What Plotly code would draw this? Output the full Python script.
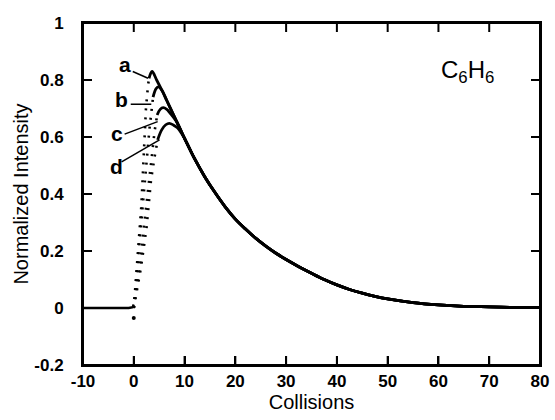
import plotly.graph_objects as go

# ---- data ----
base_x = [-10, -5, -1, -0.2, 0]
base_y = [0, 0, 0, 0.003, 0.012]

stray_x = [0]
stray_y = [-0.035]

# dotted rising parts
rise_a_x = [0, 0.8, 1.5, 2.0, 2.4, 2.8, 3.0]
rise_a_y = [0, 0.19, 0.36, 0.55, 0.70, 0.78, 0.806]
rise_b_x = [0, 1.0, 1.8, 2.5, 3.1, 3.8]
rise_b_y = [0, 0.20, 0.36, 0.50, 0.63, 0.74]
rise_c_x = [0, 1.2, 2.1, 2.8, 3.5, 4.1, 4.6]
rise_c_y = [0, 0.15, 0.30, 0.42, 0.53, 0.62, 0.677]
rise_d_x = [0, 1.4, 2.5, 3.4, 4.1, 4.7]
rise_d_y = [0, 0.14, 0.28, 0.45, 0.53, 0.59]

# solid peak parts (before joining the common decay)
peak_a_x = [3.0, 3.6]
peak_a_y = [0.806, 0.83]
peak_b_x = [3.8, 4.4, 4.9, 5.6]
peak_b_y = [0.74, 0.77, 0.776, 0.762]
peak_c_x = [4.6, 5.2, 5.8, 6.5, 7.1]
peak_c_y = [0.677, 0.697, 0.703, 0.697, 0.685]
peak_d_x = [4.7, 5.5, 6.3, 7.0, 7.8, 8.6]
peak_d_y = [0.59, 0.625, 0.643, 0.648, 0.642, 0.632]

# common decay
decay_x = [4.5, 5.5, 6.5, 7.5, 8.5, 10, 12, 14, 16, 18, 20, 22, 24, 26, 28, 30,
           32.5, 35, 37.5, 40, 42.5, 45, 47.5, 50, 55, 60, 65, 70, 75, 80]
decay_y = [0.80, 0.765, 0.728, 0.69, 0.652, 0.595, 0.523, 0.46, 0.405, 0.355,
           0.312, 0.277, 0.245, 0.217, 0.192, 0.17, 0.145, 0.122, 0.1, 0.081,
           0.065, 0.052, 0.041, 0.032, 0.019, 0.011, 0.006, 0.004, 0.002, 0.001]

labels = ["a", "b", "c", "d"]
label_x = [-1.8, -2.4, -3.4, -3.5]
label_y = [0.853, 0.73, 0.613, 0.498]
leader_x0 = [-0.2, -0.6, -1.8, -2.4]
leader_y0 = [0.83, 0.715, 0.61, 0.513]
leader_x1 = [2.8, 3.45, 4.7, 5.07]
leader_y1 = [0.806, 0.715, 0.654, 0.59]

x_range = [-10, 80]
y_range = [-0.2, 1]
x_ticks = [-10, 0, 10, 20, 30, 40, 50, 60, 70, 80]
y_ticks = [-0.2, 0, 0.2, 0.4, 0.6, 0.8, 1]
y_ticktext = ["-0.2", "0", "0.2", "0.4", "0.6", "0.8", "1"]
x_ticktext = [str(v) for v in x_ticks]

BLACK = "#000000"
FONT = "Liberation Sans"
W, H = 555, 420
M = dict(l=83, r=15, t=23, b=55)
TICK_PX = 9

fig = go.Figure()

fig.add_trace(go.Scatter(x=base_x, y=base_y, mode="lines",
                         line=dict(color=BLACK, width=2.5), showlegend=False))
fig.add_trace(go.Scatter(x=stray_x, y=stray_y, mode="markers",
                         marker=dict(color=BLACK, size=4), showlegend=False))

rises = [(rise_a_x, rise_a_y), (rise_b_x, rise_b_y), (rise_c_x, rise_c_y), (rise_d_x, rise_d_y)]
for rx, ry in rises:
    fig.add_trace(go.Scatter(x=rx, y=ry, mode="lines",
                             line=dict(color=BLACK, width=2.6, dash="2px,7px"),
                             showlegend=False))

peaks = [(peak_a_x, peak_a_y), (peak_b_x, peak_b_y), (peak_c_x, peak_c_y), (peak_d_x, peak_d_y)]
for px, py in peaks:
    last = px[-1]
    xs = list(px) + [x for x in decay_x if x > last + 0.5]
    ys = list(py) + [y for x, y in zip(decay_x, decay_y) if x > last + 0.5]
    fig.add_trace(go.Scatter(x=xs, y=ys, mode="lines", line_shape="spline",
                             line=dict(color=BLACK, width=2.8), showlegend=False))

for i, lab in enumerate(labels):
    fig.add_trace(go.Scatter(x=[leader_x0[i], leader_x1[i]], y=[leader_y0[i], leader_y1[i]],
                             mode="lines", line=dict(color=BLACK, width=1.5), showlegend=False))
    fig.add_annotation(x=label_x[i], y=label_y[i], text="<b>" + lab + "</b>", showarrow=False,
                       font=dict(family=FONT, size=21, color=BLACK),
                       xanchor="center", yanchor="middle")

fig.add_annotation(x=65.7, y=0.83, text="C<sub>6</sub>H<sub>6</sub>", showarrow=False,
                   font=dict(family=FONT, size=24, color=BLACK),
                   xanchor="center", yanchor="middle")

# frame around the plot area
fig.add_shape(type="rect", xref="paper", yref="paper", x0=0, y0=0, x1=1, y1=1,
              line=dict(color=BLACK, width=2), layer="above")

# inside ticks placed on the axes' scales, fixed pixel length
for v in x_ticks[1:-1]:
    fig.add_shape(type="line", xref="x", yref="paper", x0=v, x1=v,
                  ysizemode="pixel", yanchor=0, y0=0, y1=TICK_PX,
                  line=dict(color=BLACK, width=2))
    fig.add_shape(type="line", xref="x", yref="paper", x0=v, x1=v,
                  ysizemode="pixel", yanchor=1, y0=0, y1=-TICK_PX,
                  line=dict(color=BLACK, width=2))
for v in y_ticks[1:-1]:
    fig.add_shape(type="line", xref="paper", yref="y", y0=v, y1=v,
                  xsizemode="pixel", xanchor=0, x0=0, x1=TICK_PX,
                  line=dict(color=BLACK, width=2))
    fig.add_shape(type="line", xref="paper", yref="y", y0=v, y1=v,
                  xsizemode="pixel", xanchor=1, x0=0, x1=-TICK_PX,
                  line=dict(color=BLACK, width=2))

fig.update_xaxes(range=x_range, tickmode="array", tickvals=x_ticks,
                 ticktext=["<b>" + t + "</b>" for t in x_ticktext],
                 showline=True, linecolor=BLACK, linewidth=2, mirror=True,
                 ticks="inside", ticklen=TICK_PX, tickwidth=2, tickcolor=BLACK,
                 showgrid=False, zeroline=False,
                 tickfont=dict(family=FONT, size=17, color=BLACK),
                 title=dict(text="Collisions", standoff=2,
                            font=dict(family=FONT, size=20, color=BLACK)))
fig.update_yaxes(range=y_range, tickmode="array", tickvals=y_ticks,
                 ticktext=["<b>" + t + "</b>" for t in y_ticktext],
                 showline=True, linecolor=BLACK, linewidth=2, mirror=True,
                 ticks="inside", ticklen=TICK_PX, tickwidth=2, tickcolor=BLACK,
                 showgrid=False, zeroline=False,
                 ticklabelstandoff=14,
                 tickfont=dict(family=FONT, size=17, color=BLACK),
                 title=dict(text="Normalized Intensity", standoff=0,
                            font=dict(family=FONT, size=20, color=BLACK)))

fig.update_layout(width=W, height=H, margin=M, template="none",
                  paper_bgcolor="white", plot_bgcolor="white", showlegend=False)

fig.write_html("out.html")
